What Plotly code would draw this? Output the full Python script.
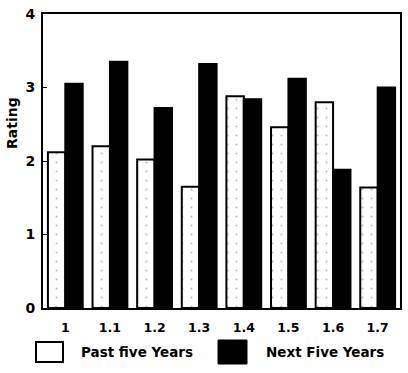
import plotly.graph_objects as go

categories = ["1", "1.1", "1.2", "1.3", "1.4", "1.5", "1.6", "1.7"]
past_five = [2.12, 2.2, 2.02, 1.65, 2.88, 2.46, 2.8, 1.64]
next_five = [3.05, 3.35, 2.72, 3.32, 2.84, 3.12, 1.88, 3.0]
series_names = ["Past five Years", "Next Five Years"]
y_ticks = [0, 1, 2, 3, 4]

FAM = "DejaVu Sans, Liberation Sans, sans-serif"
L, R, T, B = 43, 8, 14, 65
PW, PH = 408 - L - R, 373 - T - B


def px(x):
    return (x - L) / PW


def py(y):
    return (373 - B - y) / PH


fig = go.Figure()
fig.add_bar(
    x=categories, y=past_five, name=series_names[0],
    marker=dict(color="white", line=dict(color="black", width=2),
                pattern=dict(shape=".", fgcolor="#777777", bgcolor="white", size=9, solidity=0.04)),
)
fig.add_bar(
    x=categories, y=next_five, name=series_names[1],
    marker=dict(color="black", line=dict(color="black", width=2)),
)

fig.update_layout(
    width=408, height=373,
    margin=dict(l=L, r=R, t=T, b=B, autoexpand=False),
    plot_bgcolor="white", paper_bgcolor="white",
    barmode="group", bargap=0.22, bargroupgap=0,
    showlegend=False,
    font=dict(family=FAM, size=13, color="black"),
)
fig.update_xaxes(type="category", showline=True, linecolor="black", linewidth=2, mirror=True,
                 ticks="", automargin=False, ticklabelstandoff=7,
                 tickfont=dict(family=FAM, size=12.5, color="black", weight="bold"), showgrid=False)
fig.update_yaxes(range=[0, 4], tickvals=y_ticks, showline=True, linecolor="black", linewidth=2,
                 mirror=True, ticks="inside", ticklen=4, tickcolor="black", showgrid=False,
                 zeroline=False, automargin=False, ticklabelstandoff=3,
                 tickfont=dict(family=FAM, size=14, color="black", weight="bold"))

fig.add_annotation(text="Rating", xref="paper", yref="paper", x=px(12), y=py(123),
                   textangle=-90, showarrow=False,
                   font=dict(family=FAM, size=14, color="black", weight="bold"),
                   xanchor="center", yanchor="middle")

# custom legend
fig.add_shape(type="rect", xref="paper", yref="paper",
              x0=px(36), x1=px(63), y0=py(362), y1=py(342),
              line=dict(color="black", width=2), fillcolor="white")
fig.add_shape(type="rect", xref="paper", yref="paper",
              x0=px(218), x1=px(247), y0=py(364), y1=py(340),
              line=dict(color="black", width=1), fillcolor="black")
fig.add_annotation(text=series_names[0], xref="paper", yref="paper", x=px(79),
                   y=py(352), xanchor="left", yanchor="middle", showarrow=False,
                   font=dict(family=FAM, size=13.5, color="black", weight="bold"))
fig.add_annotation(text=series_names[1], xref="paper", yref="paper", x=px(264),
                   y=py(352), xanchor="left", yanchor="middle", showarrow=False,
                   font=dict(family=FAM, size=13.5, color="black", weight="bold"))

fig.write_html("out.html", config={"displayModeBar": False},
               post_script="document.body.style.margin='0';document.body.style.padding='0';")
